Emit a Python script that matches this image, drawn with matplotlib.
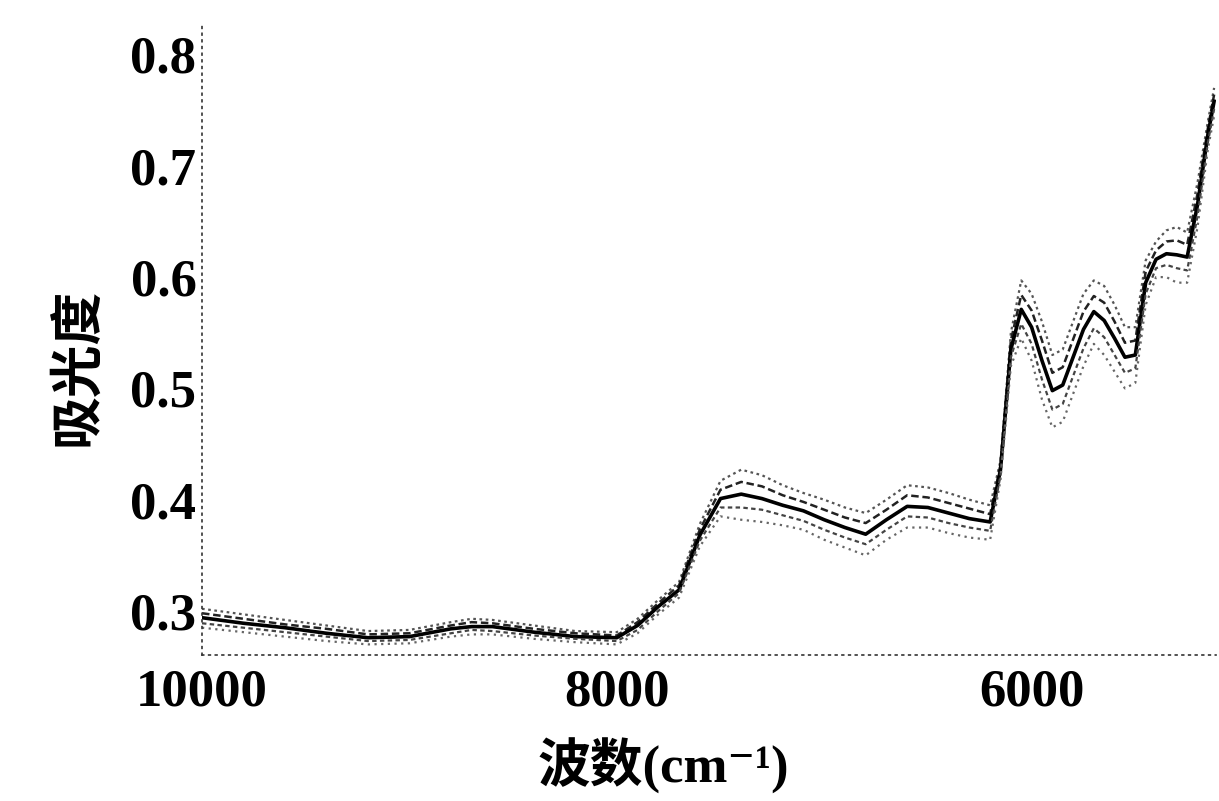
import matplotlib
matplotlib.use("Agg")
import matplotlib.pyplot as plt

# wavenumbers (cm^-1)
wavenumber = [10000, 9800, 9600, 9400, 9200, 9000, 8800, 8700, 8600, 8400, 8200, 8000,
              7900, 7800, 7700, 7600, 7500, 7400, 7300, 7200, 7100, 7000, 6900, 6800,
              6700, 6600, 6500, 6400, 6300, 6200, 6150, 6100, 6050, 6000, 5950, 5900,
              5850, 5800, 5750, 5700, 5650, 5600, 5550, 5500, 5450, 5400, 5350, 5300,
              5250, 5200, 5150, 5120]

spec1 = [.302, .297, .292, .287, .282, .283, .290, .293, .292, .287, .282, .281,
         .293, .310, .326, .378, .417, .427, .422, .413, .406, .400, .393, .388,
         .400, .413, .411, .406, .400, .395, .435, .550, .597, .585, .560, .530,
         .535, .560, .585, .597, .592, .575, .555, .555, .615, .632, .642, .645,
         .640, .685, .740, .770]
spec2 = [.298, .293, .288, .284, .279, .280, .287, .290, .289, .284, .280, .278,
         .290, .307, .323, .373, .409, .416, .412, .404, .398, .391, .384, .379,
         .391, .404, .402, .397, .392, .387, .431, .543, .584, .570, .543, .514,
         .519, .544, .569, .583, .577, .560, .541, .543, .605, .624, .632, .633,
         .629, .675, .734, .764]
spec3 = [.294, .289, .285, .280, .276, .277, .284, .286, .286, .281, .277, .276,
         .287, .304, .319, .368, .401, .405, .401, .395, .390, .382, .375, .369,
         .382, .394, .393, .388, .383, .380, .427, .535, .571, .555, .525, .498,
         .503, .528, .553, .569, .561, .545, .528, .530, .595, .616, .621, .620,
         .618, .665, .728, .758]
spec4 = [.289, .285, .281, .277, .273, .274, .280, .283, .282, .278, .275, .273,
         .283, .300, .316, .363, .393, .393, .391, .386, .381, .373, .366, .360,
         .373, .385, .384, .379, .375, .372, .422, .528, .558, .540, .508, .481,
         .486, .511, .536, .554, .546, .530, .514, .518, .585, .608, .611, .608,
         .606, .655, .721, .751]
spec5 = [.285, .281, .277, .273, .270, .271, .277, .279, .279, .275, .272, .270,
         .280, .297, .312, .358, .385, .382, .380, .377, .373, .364, .357, .350,
         .364, .375, .375, .370, .366, .364, .418, .520, .545, .525, .490, .465,
         .470, .495, .520, .540, .530, .515, .500, .505, .575, .600, .600, .595,
         .595, .645, .715, .745]

spectra = [spec1, spec2, spec3, spec4, spec5]
styles = [dict(color="#555555", lw=1.6, ls=(0, (1.2, 1.6))),
          dict(color="#222222", lw=1.8, ls=(0, (3, 1.5))),
          dict(color="black", lw=2.6, ls="-"),
          dict(color="#444444", lw=1.6, ls=(0, (2, 1.5))),
          dict(color="#666666", lw=1.6, ls=(0, (1, 2)))]

x_ticks = [10000, 8000, 6000]
x_ticklabels = ["10000", "8000", "6000"]
y_ticks = [0.3, 0.4, 0.5, 0.6, 0.7, 0.8]
y_ticklabels = ["0.3", "0.4", "0.5", "0.6", "0.7", "0.8"]

fig = plt.figure(figsize=(12.19, 8.01), dpi=100)
ax = fig.add_axes([0.1657, 0.1823, 0.832, 0.7865])

for s, st in zip(spectra, styles):
    ax.plot(wavenumber, s, **st)

ax.set_xlim(10000, 5110)
ax.set_ylim(0.2605, 0.8265)

for side in ("top", "right"):
    ax.spines[side].set_visible(False)
for side in ("left", "bottom"):
    ax.spines[side].set_linestyle((0, (1, 3)))
    ax.spines[side].set_color("#333333")
    ax.spines[side].set_linewidth(1.2)

tickfont = dict(family="Liberation Serif", size=38, weight="bold")
ax.set_xticks(x_ticks)
ax.set_xticklabels(x_ticklabels, **tickfont)
ax.set_yticks(y_ticks)
ax.set_yticklabels(y_ticklabels, **tickfont)
ax.tick_params(axis="both", length=0)
ax.tick_params(axis="x", pad=10)
ax.tick_params(axis="y", pad=4)

labfam = ["Liberation Serif", "DejaVu Serif", "Noto Sans CJK SC"]
ax.set_xlabel("波数(cm⁻¹)", family=labfam, size=38, weight="bold")
ax.xaxis.set_label_coords(0.455, -0.132)
ax.set_ylabel("吸光度", family=["Noto Sans CJK SC"], size=38, weight="bold")
ax.yaxis.set_label_coords(-0.097, 0.457)

fig.savefig("out.png", dpi=100)
